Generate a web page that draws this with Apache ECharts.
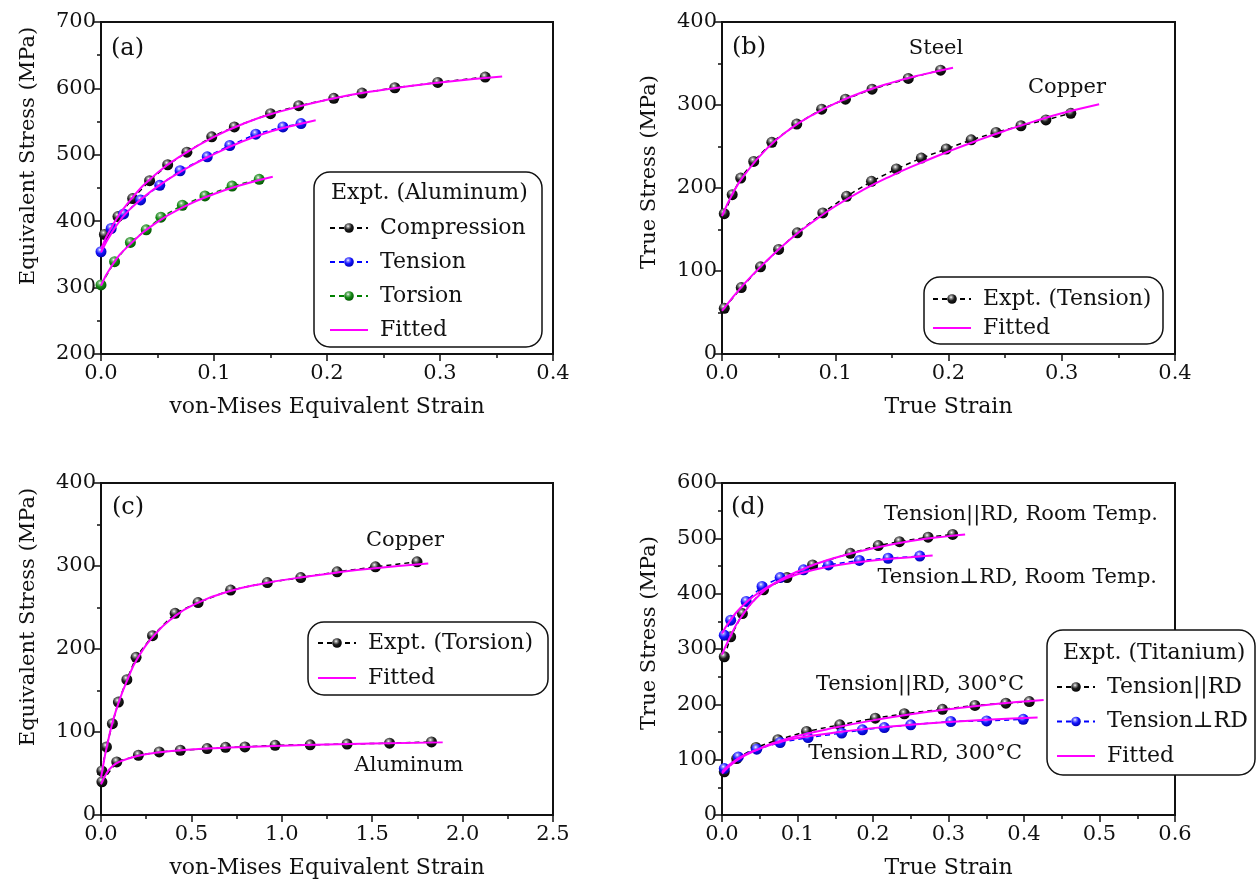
<!DOCTYPE html>
<html><head><meta charset="utf-8">
<script src="https://cdn.jsdelivr.net/npm/echarts@6/dist/echarts.min.js"></script>
<style>html,body{margin:0;padding:0;background:#fff}#c{width:1258px;height:887px}</style>
</head><body><div id="c"></div>
<script>
// ---------- DATA ----------
// (a) Aluminum
const aCompX = [0.003,0.015,0.028,0.043,0.059,0.076,0.098,0.118,0.150,0.175,0.206,0.231,0.260,0.298,0.340];
const aCompY = [380,407,434,461,485,504,527,542,562,574,585,593,601,609,617];
const aTensX = [0,0.009,0.020,0.035,0.052,0.070,0.094,0.114,0.137,0.161,0.177];
const aTensY = [354,389,411,432,454,476,497,514,531,542,547];
const aTorsX = [0,0.012,0.026,0.040,0.053,0.072,0.092,0.116,0.140];
const aTorsY = [304,339,368,387,406,424,438,453,463];
const aFitCompX = [0,0.01,0.025,0.05,0.075,0.1,0.125,0.15,0.2,0.25,0.3,0.355];
const aFitCompY = [358,393,430,473,503,527,546,561,583,598,609,618];
const aFitTensX = [0,0.01,0.025,0.05,0.075,0.1,0.125,0.15,0.175,0.19];
const aFitTensY = [353,384,417,452,479,501,520,535,546,552];
const aFitTorsX = [0,0.01,0.025,0.05,0.075,0.1,0.125,0.152];
const aFitTorsY = [303,334,364,399,423,441,455,467];
// (b) Steel & Copper tension
const bSteelX = [0.002,0.009,0.0165,0.028,0.044,0.066,0.088,0.109,0.1325,0.1645,0.193];
const bSteelY = [169,192,212,232,255,277,295,307,319,332,342];
const bCopX = [0.002,0.017,0.034,0.050,0.0665,0.089,0.110,0.132,0.154,0.176,0.198,0.220,0.242,0.264,0.286,0.308];
const bCopY = [55,80,105,126,146,170,190,208,223,236,247,258,267,275,282,290];
const bFitSteelX = [0,0.01,0.02,0.04,0.06,0.08,0.1,0.125,0.15,0.175,0.204];
const bFitSteelY = [166,195,216,248,271,288,302,316,327,336,345];
const bFitCopX = [0,0.02,0.04,0.06,0.08,0.1,0.125,0.15,0.175,0.2,0.225,0.25,0.275,0.3,0.333];
const bFitCopY = [52,85,113,138,159,178,198,215,230,244,257,269,280,290,301];
// (c) Torsion
const cCopX = [0.005,0.03,0.063,0.096,0.143,0.194,0.285,0.41,0.537,0.717,0.92,1.105,1.306,1.518,1.748];
const cCopY = [53,82,110,136,163,190,216,243,256,271,280,286,293,299,305];
const cAlX = [0.005,0.087,0.207,0.322,0.439,0.587,0.689,0.796,0.963,1.157,1.361,1.596,1.828];
const cAlY = [40,64,72,76,78,80,81.5,82,84,84.5,85.5,86.5,88];
const cFitCopX = [0,0.05,0.1,0.15,0.2,0.3,0.4,0.5,0.7,0.9,1.1,1.3,1.5,1.81];
const cFitCopY = [45,100,137,165,188,218,238,252,269,279,286,292,297,303];
const cFitAlX = [0,0.03,0.06,0.1,0.2,0.3,0.5,0.75,1.0,1.25,1.5,1.89];
const cFitAlY = [37,50,58,64,71,75,79,81.5,83.5,85,86,87.5];
// (d) Titanium
const dRtParX = [0.003,0.0115,0.027,0.055,0.086,0.12,0.17,0.207,0.235,0.273,0.3055];
const dRtParY = [286,322,364,407,429,452,473,487,494,502,507];
const dRtPerpX = [0.003,0.0115,0.032,0.053,0.077,0.108,0.141,0.182,0.220,0.262];
const dRtPerpY = [325,352,386,413,429,443,452,460,464,468];
const dHtParX = [0.003,0.0195,0.045,0.074,0.112,0.156,0.203,0.2415,0.292,0.335,0.376,0.407];
const dHtParY = [78,102,122,136,151,163,175,183,191,198,202,205];
const dHtPerpX = [0.003,0.0216,0.046,0.077,0.114,0.1585,0.186,0.215,0.25,0.303,0.3505,0.399];
const dHtPerpY = [84,105,119,131,140,148,154,158,163,169,170,173];
const dFitRtParX = [0,0.01,0.025,0.05,0.075,0.1,0.125,0.15,0.2,0.25,0.3,0.322];
const dFitRtParY = [290,320,357,398,423,440,454,465,482,495,504,507];
const dFitRtPerpX = [0,0.01,0.025,0.05,0.075,0.1,0.125,0.15,0.2,0.25,0.279];
const dFitRtPerpY = [328,350,375,403,422,435,444,451,460,466,469];
const dFitHtParX = [0,0.02,0.05,0.075,0.1,0.15,0.2,0.25,0.3,0.35,0.4,0.426];
const dFitHtParY = [75,99,120,133,143,158,171,182,191,199,205,208];
const dFitHtPerpX = [0,0.02,0.05,0.075,0.1,0.15,0.2,0.25,0.3,0.35,0.418];
const dFitHtPerpY = [78,101,120,131,139,149,157,163,168,172,176];

// ---------- STYLE ----------
const FONT = 'DejaVu Serif';
const INK = '#111';
const pairs = (xs, ys) => xs.map((x, i) => [x, ys[i]]);
function sphere(c1, c2, c3) {
  return { type: 'radial', x: 0.4, y: 0.32, r: 0.72,
    colorStops: [{offset: 0, color: '#ffffff'}, {offset: 0.18, color: c1}, {offset: 0.5, color: c2}, {offset: 1, color: c3}] };
}
const BLACK = sphere('#9a9a9a', '#1e1e1e', '#000000');
const BLUE = sphere('#8a8aff', '#1515ff', '#0000a8');
const GREEN = sphere('#85bd85', '#168a16', '#005000');
const FIT_ICON = 'path://M0,0H38V2.2H0Z';

function expt(name, idx, xs, ys, lineColor, fill) {
  return { type: 'line', name, xAxisIndex: idx, yAxisIndex: idx, data: pairs(xs, ys),
    symbol: 'circle', symbolSize: 11, showSymbol: true,
    lineStyle: { type: [5, 4], width: 1.5, color: lineColor },
    itemStyle: { color: fill, borderWidth: 0 }, z: 2, animation: false, silent: true };
}
function fit(idx, xs, ys) {
  return { type: 'line', name: 'Fitted', xAxisIndex: idx, yAxisIndex: idx, data: pairs(xs, ys),
    symbol: 'none', showSymbol: false, smooth: 0.5,
    lineStyle: { width: 2, color: '#ff00ff' }, itemStyle: { color: '#ff00ff' }, z: 3, animation: false, silent: true };
}
const grids = [
  { left: 101, top: 22, width: 452, height: 332 },
  { left: 722, top: 22, width: 453, height: 332 },
  { left: 101, top: 483, width: 452, height: 332 },
  { left: 722, top: 483, width: 453, height: 332 }
].map(g => Object.assign(g, { show: true, borderColor: INK, borderWidth: 2, backgroundColor: 'transparent', containLabel: false }));

function xAx(idx, min, max, interval, name) {
  return { gridIndex: idx, type: 'value', min, max, interval, name, nameLocation: 'middle', nameGap: 42,
    nameTextStyle: { fontFamily: FONT, fontSize: 22, color: INK },
    axisLine: { show: true, onZero: false, lineStyle: { color: INK, width: 2 } },
    axisTick: { show: true, inside: false, length: 7, lineStyle: { color: INK, width: 1.5 } },
    minorTick: { show: true, splitNumber: 2, length: 4, lineStyle: { color: INK, width: 1.5 } },
    splitLine: { show: false }, minorSplitLine: { show: false },
    axisLabel: { fontFamily: FONT, fontSize: 21, color: INK, margin: 9, showMaxLabel: true, showMinLabel: true,
      formatter: v => v.toFixed(1) } };
}
function yAx(idx, min, max, interval, name, shift) {
  return { gridIndex: idx, type: 'value', min, max, interval, name, nameLocation: 'middle', nameGap: 62,
    nameTextStyle: { fontFamily: FONT, fontSize: 21, color: INK, padding: [0, 0, 0, shift] },
    axisLine: { show: true, onZero: false, lineStyle: { color: INK, width: 2 } },
    axisTick: { show: true, inside: false, length: 7, lineStyle: { color: INK, width: 1.5 } },
    minorTick: { show: true, splitNumber: 2, length: 4, lineStyle: { color: INK, width: 1.5 } },
    splitLine: { show: false }, minorSplitLine: { show: false },
    axisLabel: { fontFamily: FONT, fontSize: 21, color: INK, margin: 5, showMaxLabel: true, showMinLabel: true,
      formatter: v => String(Math.round(v)) } };
}

function legend(left, top, names, gap) {
  return { left, top, orient: 'vertical', padding: 0, itemWidth: 38, itemHeight: 12, itemGap: gap,
    selectedMode: false, z: 5, symbolKeepAspect: true,
    textStyle: { fontFamily: FONT, fontSize: 22, color: INK, lineHeight: 22, padding: [0, 0, 0, 7] },
    data: names.map(n => n === 'Fitted' ? { name: n, icon: FIT_ICON } : n) };
}
function box(x, y, w, h) {
  return { type: 'rect', shape: { x, y, width: w, height: h, r: 16 }, z: 4,
    style: { fill: '#fff', stroke: INK, lineWidth: 1.5 } };
}
function txt(text, x, y, size, align) {
  return { type: 'text', z: 6, style: { text, x, y, font: size + 'px "' + FONT + '"', fill: INK,
    textAlign: align || 'left', textVerticalAlign: 'middle', verticalAlign: 'middle' } };
}

const option = {
  backgroundColor: '#fff',
  animation: false,
  grid: grids,
  xAxis: [
    xAx(0, 0, 0.4, 0.1, 'von-Mises Equivalent Strain'),
    xAx(1, 0, 0.4, 0.1, 'True Strain'),
    xAx(2, 0, 2.5, 0.5, 'von-Mises Equivalent Strain'),
    xAx(3, 0, 0.6, 0.1, 'True Strain')
  ],
  yAxis: [
    yAx(0, 200, 700, 100, 'Equivalent Stress (MPa)', 64),
    yAx(1, 0, 400, 100, 'True Stress (MPa)', 32),
    yAx(2, 0, 400, 100, 'Equivalent Stress (MPa)', 64),
    yAx(3, 0, 600, 100, 'True Stress (MPa)', 32)
  ],
  legend: [
    legend(329, 217, ['Compression', 'Tension', 'Torsion', 'Fitted'], 12),
    legend(932, 288, ['Expt. (Tension)', 'Fitted'], 7),
    legend(317, 632, ['Expt. (Torsion)', 'Fitted'], 13),
    legend(1056, 676, ['Tension||RD', 'Tension\u22a5RD', 'Fitted'], 12.5)
  ],
  graphic: [
    box(314, 172, 228, 175),
    box(924, 277, 239, 67),
    box(308, 622, 240, 73),
    box(1047, 630, 208, 145),
    txt('Expt. (Aluminum)', 331, 193, 22),
    txt('Expt. (Titanium)', 1063, 653, 22),
    txt('(a)', 111, 49, 24),
    txt('(b)', 732, 48, 24),
    txt('(c)', 112, 508, 24),
    txt('(d)', 731, 508, 24),
    txt('Steel', 936, 49, 21, 'center'),
    txt('Copper', 1067, 88, 21, 'center'),
    txt('Copper', 405, 541, 21, 'center'),
    txt('Aluminum', 409, 766, 21, 'center'),
    txt('Tension||RD, Room Temp.', 1158, 515, 21, 'right'),
    txt('Tension\u22a5RD, Room Temp.', 1157, 578, 21, 'right'),
    txt('Tension||RD, 300\u00b0C', 1024, 685, 21, 'right'),
    txt('Tension\u22a5RD, 300\u00b0C', 1022, 754, 21, 'right')
  ],
  series: [
    expt('Compression', 0, aCompX, aCompY, '#000', BLACK),
    expt('Tension', 0, aTensX, aTensY, '#0000ff', BLUE),
    expt('Torsion', 0, aTorsX, aTorsY, '#008000', GREEN),
    fit(0, aFitCompX, aFitCompY),
    fit(0, aFitTensX, aFitTensY),
    fit(0, aFitTorsX, aFitTorsY),
    expt('Expt. (Tension)', 1, bSteelX, bSteelY, '#000', BLACK),
    expt('Expt. (Tension)', 1, bCopX, bCopY, '#000', BLACK),
    fit(1, bFitSteelX, bFitSteelY),
    fit(1, bFitCopX, bFitCopY),
    expt('Expt. (Torsion)', 2, cCopX, cCopY, '#000', BLACK),
    expt('Expt. (Torsion)', 2, cAlX, cAlY, '#000', BLACK),
    fit(2, cFitCopX, cFitCopY),
    fit(2, cFitAlX, cFitAlY),
    expt('Tension||RD', 3, dRtParX, dRtParY, '#000', BLACK),
    expt('Tension\u22a5RD', 3, dRtPerpX, dRtPerpY, '#0000ff', BLUE),
    expt('Tension||RD', 3, dHtParX, dHtParY, '#000', BLACK),
    expt('Tension\u22a5RD', 3, dHtPerpX, dHtPerpY, '#0000ff', BLUE),
    fit(3, dFitRtParX, dFitRtParY),
    fit(3, dFitRtPerpX, dFitRtPerpY),
    fit(3, dFitHtParX, dFitHtParY),
    fit(3, dFitHtPerpX, dFitHtPerpY)
  ]
};
const chart = echarts.init(document.getElementById('c'), null, { renderer: 'canvas' });
chart.setOption(option);
</script></body></html>
